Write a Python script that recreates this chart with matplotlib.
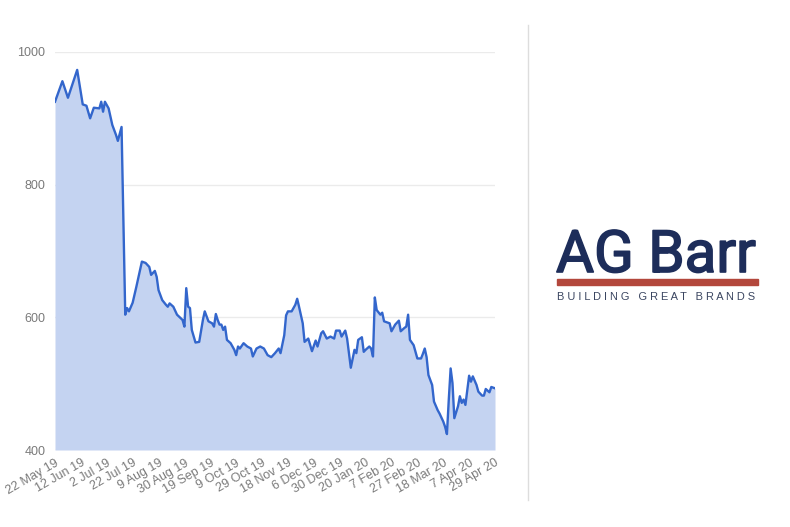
import matplotlib
matplotlib.use("Agg")
import matplotlib.pyplot as plt
import matplotlib.patheffects as pe
from matplotlib.font_manager import FontProperties, findfont

# trading day index (0 = 22 May 19) and share price (p)
dias = [0, 4, 7, 12, 15, 17, 19, 21, 24, 25, 26, 27, 29, 31, 33, 34, 36, 38, 39, 40,
        42, 44, 47, 49, 51, 52, 54, 55, 56, 58, 60, 61, 62, 64, 66, 69, 70, 71, 72, 73,
        74, 76, 78, 80, 81, 83, 85, 86, 87, 88, 89, 90, 91, 92, 93, 95, 97, 98, 99, 100,
        102, 104, 106, 107, 109, 111, 113, 115, 117, 119, 121, 122, 124, 125, 126, 128, 130, 131, 132, 134,
        135, 137, 139, 141, 142, 144, 145, 147, 149, 151, 152, 154, 155, 157, 158, 160, 162, 163, 164, 166,
        167, 168, 170, 171, 172, 173, 174, 176, 177, 178, 181, 182, 184, 186, 187, 189, 190, 191, 192, 194,
        196, 198, 199, 200, 201, 202, 204, 205, 207, 208, 210, 211, 212, 213, 214, 215, 216, 218, 219, 220,
        221, 222, 224, 225, 226, 228, 229, 231, 232, 233, 235, 236, 238]
precios = [925, 956, 931, 973, 921, 919, 900, 916, 915, 925, 910, 925, 915, 890, 875, 866, 887, 604, 614, 609,
           622, 646, 684, 682, 676, 664, 670, 661, 641, 626, 619, 616, 621, 616, 604, 596, 586, 644, 616, 614,
           581, 562, 563, 596, 609, 594, 591, 586, 605, 596, 589, 589, 581, 586, 566, 561, 551, 543, 556, 553,
           561, 556, 553, 541, 553, 556, 553, 543, 540, 546, 553, 546, 573, 603, 609, 609, 619, 628, 616, 591,
           563, 568, 549, 565, 556, 576, 579, 568, 571, 568, 580, 580, 571, 580, 568, 524, 551, 546, 566, 570,
           548, 551, 556, 553, 541, 630, 611, 604, 607, 594, 591, 579, 589, 595, 579, 584, 586, 604, 566, 558,
           538, 538, 545, 553, 540, 513, 498, 473, 460, 455, 443, 435, 424, 476, 523, 501, 448, 466, 481, 471,
           476, 468, 512, 503, 511, 498, 488, 482, 482, 492, 487, 495, 493]

etiquetas = ["22 May 19", "12 Jun 19", "2 Jul 19", "22 Jul 19", "9 Aug 19", "30 Aug 19",
             "19 Sep 19", "9 Oct 19", "29 Oct 19", "18 Nov 19", "6 Dec 19", "30 Dec 19",
             "20 Jan 20", "7 Feb 20", "27 Feb 20", "18 Mar 20", "7 Apr 20", "29 Apr 20"]
pos_etiquetas = [i * 14 for i in range(len(etiquetas))]

plt.rcParams["font.family"] = ["Liberation Sans", "DejaVu Sans"]

fig = plt.figure(figsize=(7.9, 5.27), dpi=100)
ax = fig.add_axes([55 / 790, 1 - 450 / 527, 440 / 790, 398 / 527])

ax.fill_between(dias, precios, 400, color="#c4d3f1", linewidth=0)
ax.plot(dias, precios, color="#3366cc", linewidth=1.7)

ax.set_xlim(0, 238)
ax.set_ylim(400, 1000)
ax.set_yticks([400, 600, 800, 1000])
ax.set_xticks(pos_etiquetas)
ax.set_xticklabels(etiquetas, rotation=30, ha="right", rotation_mode="anchor")
ax.tick_params(axis="both", length=0, colors="#7a7a7a", labelsize=9)
ax.tick_params(axis="y", pad=7)
ax.tick_params(axis="x", pad=5)
ax.grid(axis="y", color="#ebebeb", linewidth=1)
ax.set_axisbelow(True)
for s in ax.spines.values():
    s.set_visible(False)

# separador
fig.add_artist(plt.Line2D([528 / 790, 528 / 790], [1 - 25 / 527, 1 - 500 / 527],
                          color="#dddddd", linewidth=1))

# logo AG Barr (fuente estrecha si existe)
try:
    findfont(FontProperties(family="Liberation Sans Narrow"), fallback_to_default=False)
    fuente_logo = "Liberation Sans Narrow"
    tam_logo = 50
except Exception:
    fuente_logo = "Roboto"
    tam_logo = 42
fig.text(556 / 790, 1 - 272 / 527, "AG Barr", fontsize=tam_logo, color="#1d2d5a",
         family=fuente_logo, va="baseline", ha="left",
         path_effects=[pe.withStroke(linewidth=1.2, foreground="#1d2d5a")])
fig.add_artist(plt.Rectangle((557 / 790, 1 - 285 / 527), 201 / 790, 6 / 527,
                             color="#b3473c", transform=fig.transFigure))
fig.text(557 / 790, 1 - 299.5 / 527, "B U I L D I N G   G R E A T   B R A N D S",
         fontsize=7.9, color="#3a4560", family="Liberation Sans", va="baseline", ha="left")

plt.savefig("out.png", dpi=100)
